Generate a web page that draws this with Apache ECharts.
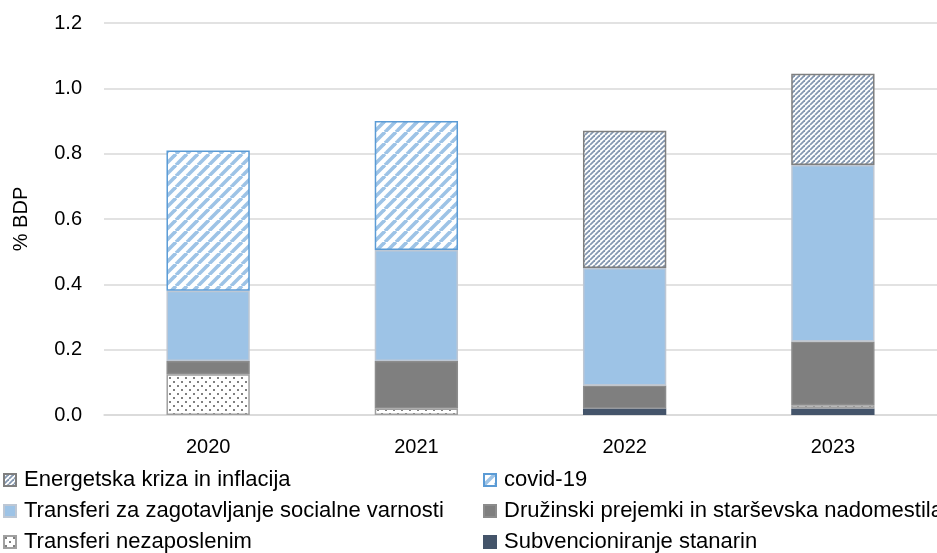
<!DOCTYPE html>
<html>
<head>
<meta charset="utf-8">
<script src="https://cdn.jsdelivr.net/npm/echarts@6/dist/echarts.min.js"></script>
<style>
html,body{margin:0;padding:0;background:#fff;overflow:hidden;}
#chart{width:937px;height:553px;}
</style>
</head>
<body>
<div id="chart"></div>
<script>
var years = ['2020', '2021', '2022', '2023'];
var subvencije = [null, null, 0.02, 0.02];
var nezaposleni = [0.125, 0.02, null, 0.01];
var druzinski = [0.04, 0.145, 0.07, 0.195];
var socialni = [0.215, 0.34, 0.36, 0.54];
var covid = [0.43, 0.395, null, null];
var energetska = [null, null, 0.42, 0.28];

// vzorci za srafure
function stripes(size, width, color){
	var c = document.createElement('canvas');
	c.width = size; c.height = size;
	var g = c.getContext('2d');
	g.fillStyle = '#fff';
	g.fillRect(0, 0, size, size);
	g.strokeStyle = color;
	g.lineWidth = width;
	for (var k = -1; k <= 1; k++) {
		g.beginPath();
		g.moveTo(k * size, size);
		g.lineTo(k * size + size, 0);
		g.stroke();
	}
	return {image: c, repeat: 'repeat'};
}
function dots(){
	var c = document.createElement('canvas');
	c.width = 8; c.height = 8;
	var g = c.getContext('2d');
	g.fillStyle = '#fff';
	g.fillRect(0, 0, 8, 8);
	g.fillStyle = '#808080';
	g.fillRect(1, 1, 2, 2);
	g.fillRect(5, 5, 2, 2);
	return {image: c, repeat: 'repeat'};
}

var font = 'Liberation Sans';
function bar(name, data, color, border){
	return {
		name: name,
		type: 'bar',
		stack: 'skupaj',
		barWidth: '40%',
		data: data,
		itemStyle: {color: color, borderColor: border, borderWidth: 1.5}
	};
}
function legendCol(left, items){
	return {
		orient: 'vertical',
		left: left, top: 469,
		padding: 0,
		icon: 'rect',
		itemWidth: 12, itemHeight: 12, itemGap: 9,
		textStyle: {fontSize: 22, color: '#000', fontFamily: font, padding: [0, 0, 0, 3]},
		data: items
	};
}

var option = {
	backgroundColor: '#fff',
	animation: false,
	textStyle: {fontFamily: font},
	grid: {left: 104, top: 23, width: 840, height: 392},
	legend: [
		legendCol(3, ['Energetska kriza in inflacija', 'Transferi za zagotavljanje socialne varnosti', 'Transferi nezaposlenim']),
		legendCol(483, ['covid-19', 'Družinski prejemki in starševska nadomestila', 'Subvencioniranje stanarin'])
	],
	xAxis: {
		type: 'category',
		data: years,
		axisLine: {lineStyle: {color: '#D9D9D9', width: 1.5}},
		axisTick: {show: false},
		axisLabel: {fontSize: 20, color: '#000', margin: 22}
	},
	yAxis: {
		type: 'value',
		min: 0, max: 1.2, interval: 0.2,
		name: '% BDP',
		nameLocation: 'middle',
		nameGap: 73,
		nameTextStyle: {fontSize: 20, color: '#000'},
		axisLabel: {
			fontSize: 20, color: '#000', margin: 22,
			formatter: function(v){ return v.toFixed(1); }
		},
		splitLine: {lineStyle: {color: '#D9D9D9', width: 1.5}}
	},
	series: [
		bar('Subvencioniranje stanarin', subvencije, '#44546A', '#44546A'),
		bar('Transferi nezaposlenim', nezaposleni, dots(), '#A0A0A0'),
		bar('Družinski prejemki in starševska nadomestila', druzinski, '#7F7F7F', '#8C8C8C'),
		bar('Transferi za zagotavljanje socialne varnosti', socialni, '#9DC3E6', '#BDC7D4'),
		bar('covid-19', covid, stripes(11, 3.6, '#9DC3E6'), '#5B9BD5'),
		bar('Energetska kriza in inflacija', energetska, stripes(5, 1.8, '#8497B0'), '#7F7F7F')
	]
};

var chart = echarts.init(document.getElementById('chart'));
chart.setOption(option);
</script>
</body>
</html>
